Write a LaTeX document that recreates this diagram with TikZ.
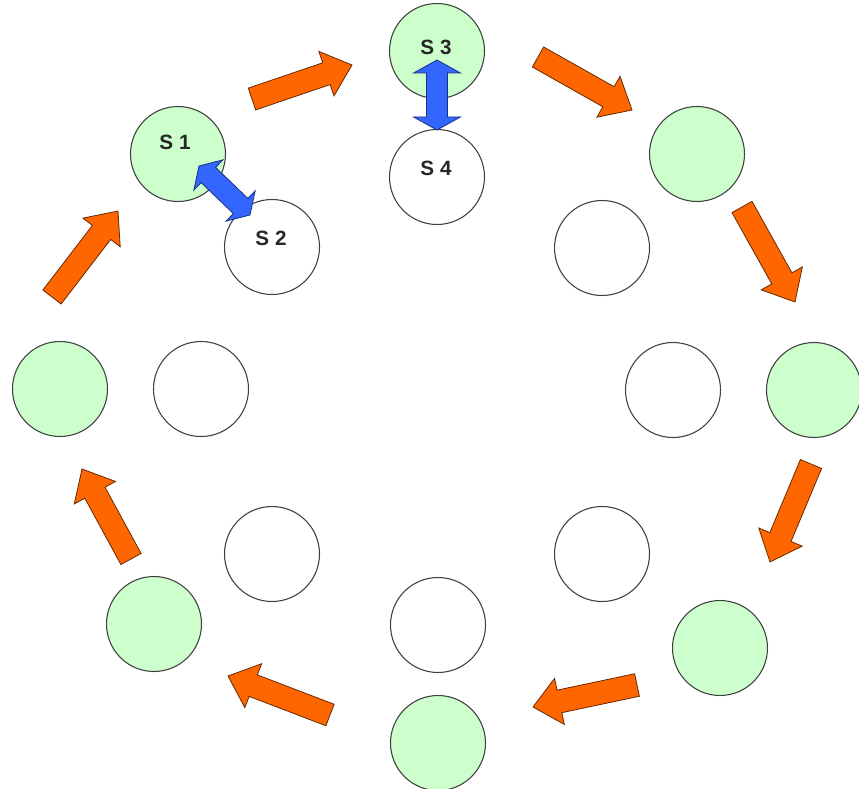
\documentclass[tikz,border=0pt]{standalone}
\usepackage{fontspec}
\setmainfont{Liberation Sans}
\definecolor{cgreen}{HTML}{CCFFCC}
\definecolor{corange}{HTML}{FF6600}
\definecolor{cblue}{HTML}{3366FF}
\newcommand\onearrow[5]{%
  \pgfmathsetmacro\baang{atan2((#3)-(#5),(#4)-(#2))}%
  \pgfmathsetmacro\balen{veclen((#4)-(#2),(#5)-(#3))}%
  \begin{scope}[shift={(#2,#3)},rotate=\baang]
    \draw[#1] (0,-11.5) -- (\balen-27,-11.5) -- (\balen-27,-23.5) -- (\balen,0)
      -- (\balen-27,23.5) -- (\balen-27,11.5) -- (0,11.5) -- cycle;
  \end{scope}}
\newcommand\twoarrow[6]{%
  \pgfmathsetmacro\baang{atan2((#3)-(#5),(#4)-(#2))}%
  \pgfmathsetmacro\balen{veclen((#4)-(#2),(#5)-(#3))}%
  \begin{scope}[shift={(#2,#3)},rotate=\baang]
    \draw[#1] (0,0) -- (13,-#6) -- (13,-10.5) -- (\balen-13,-10.5) -- (\balen-13,-#6)
      -- (\balen,0) -- (\balen-13,#6) -- (\balen-13,10.5) -- (13,10.5) -- (13,#6) -- cycle;
  \end{scope}}
\begin{document}
\begin{tikzpicture}[x=0.75pt,y=-0.75pt,
  gnode/.style={circle,draw=black!75,line width=0.8pt,fill=cgreen,minimum size=71.25pt,inner sep=0pt},
  wnode/.style={circle,draw=black!75,line width=0.8pt,fill=white,minimum size=71.25pt,inner sep=0pt},
  lbl/.style={font=\bfseries\fontsize{15.5}{18}\selectfont,text=black!85,inner sep=0pt},
  orangeblk/.style={fill=corange,draw=black!60!corange,line width=0.6pt,line join=miter},
  blueblk/.style={fill=cblue,draw=black!50!cblue,line width=0.6pt,line join=miter}]
\useasboundingbox (0,0) rectangle (859,788);
% green circles
\node[gnode] (s1) at (178,154) {};
\node[gnode] (s3) at (437,51) {};
\node[gnode] (g3) at (697,154) {};
\node[gnode] (g4) at (814,390) {};
\node[gnode] (g5) at (720,648) {};
\node[gnode] (g6) at (438,743) {};
\node[gnode] (g7) at (154,624) {};
\node[gnode] (g8) at (60,389) {};
% white circles
\node[wnode] (s2) at (272,247) {};
\node[wnode] (s4) at (437,177) {};
\node[wnode] (w3) at (602,248) {};
\node[wnode] (w4) at (673,390) {};
\node[wnode] (w5) at (602,554) {};
\node[wnode] (w6) at (438,625) {};
\node[wnode] (w7) at (272,554) {};
\node[wnode] (w8) at (201,389) {};
% orange block arrows
\onearrow{orangeblk}{252}{99}{352}{65}
\onearrow{orangeblk}{538}{57}{632}{110}
\onearrow{orangeblk}{742}{207}{795}{302}
\onearrow{orangeblk}{811}{464}{770}{562}
\onearrow{orangeblk}{637}{685}{533}{707}
\onearrow{orangeblk}{330}{715}{228}{676}
\onearrow{orangeblk}{131}{559}{82}{469}
\onearrow{orangeblk}{52}{297}{118}{211}
% blue double arrows
\twoarrow{blueblk}{199}{166}{250}{215}{21}
\twoarrow{blueblk}{437}{60}{437}{130}{23.5}
% labels
\node[lbl] (t1) at (175,142) {S 1};
\node[lbl] (t2) at (271,238) {S 2};
\node[lbl] (t3) at (436,47) {S 3};
\node[lbl] (t4) at (436,168) {S 4};
\end{tikzpicture}
\end{document}
